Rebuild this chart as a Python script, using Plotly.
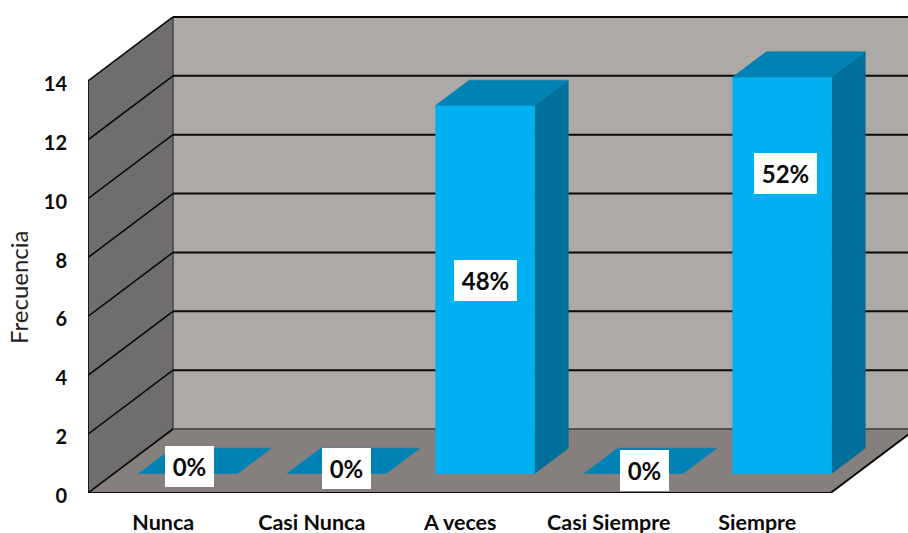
import plotly.graph_objects as go

# Survey responses and their counts
categories = ["Nunca", "Casi Nunca", "A veces", "Casi Siempre", "Siempre"]
frequency = [0, 0, 13, 0, 14]
percent_labels = ["0%", "0%", "48%", "0%", "52%"]
y_ticks = [0, 2, 4, 6, 8, 10, 12, 14]

# Oblique projection of the chart box, in axis units
PX_PER_CATEGORY = 148.5
PX_PER_UNIT = 29.43
DEPTH_X = 85 / PX_PER_CATEGORY
DEPTH_Y = 64 / PX_PER_UNIT
BAR_WIDTH = 99 / PX_PER_CATEGORY
BAR_DEPTH_FRONT = 0.305
BAR_DEPTH_BACK = 0.70
BAR_HEIGHT_SCALE = 0.962
N_CATEGORIES = len(categories)
Y_MAX = 14

WALL_BACK = "#ada9a7"
WALL_SIDE = "#6f6d6d"
FLOOR = "#85807e"
BAR_FRONT = "#00b0f0"
BAR_SIDE = "#006f99"
BAR_TOP = "#0083b4"
FONT = "Lato"


def project(cat, value, depth):
    return cat + depth * DEPTH_X, value + depth * DEPTH_Y


def polygon(points, fill):
    xs = [p[0] for p in points] + [points[0][0]]
    ys = [p[1] for p in points] + [points[0][1]]
    return go.Scatter(x=xs, y=ys, mode="lines", fill="toself", fillcolor=fill,
                      line=dict(width=0.6, color=fill), hoverinfo="skip",
                      showlegend=False, cliponaxis=False)


def polyline(segments, color, width):
    xs, ys = [], []
    for seg in segments:
        xs += [p[0] for p in seg] + [None]
        ys += [p[1] for p in seg] + [None]
    return go.Scatter(x=xs, y=ys, mode="lines", line=dict(width=width, color=color),
                      hoverinfo="skip", showlegend=False, cliponaxis=False)


fig = go.Figure()

# Box surfaces
fig.add_trace(polygon([project(0, 0, 1), project(N_CATEGORIES + 0.2, 0, 1),
                       project(N_CATEGORIES + 0.2, Y_MAX, 1), project(0, Y_MAX, 1)], WALL_BACK))
fig.add_trace(polygon([project(0, 0, 0), project(0, 0, 1),
                       project(0, Y_MAX, 1), project(0, Y_MAX, 0)], WALL_SIDE))
fig.add_trace(polygon([project(0, 0, 0), project(N_CATEGORIES, 0, 0),
                       project(N_CATEGORIES, 0, 1), project(0, 0, 1)], FLOOR))

# Gridlines wrapping the side and back walls
grid_side = [[project(0, v, 0), project(0, v, 1)] for v in y_ticks]
grid_back = [[project(0, v, 1), project(N_CATEGORIES + 0.2, v, 1)] for v in y_ticks if v > 0]
fig.add_trace(polyline([[project(0, 0, 1), project(N_CATEGORIES + 0.2, 0, 1)],
                        [project(0, 0, 1), project(0, Y_MAX, 1)]], "#3f3e3e", 1.3))
fig.add_trace(polyline(grid_side, "#0a0a0a", 1.6))
fig.add_trace(polyline(grid_back, "#0a0a0a", 2))

# Front edges of the box
fig.add_trace(polyline([[project(0, 0, 0), project(0, Y_MAX, 0)]], "#111111", 1.8))
fig.add_trace(polyline([[project(0, 0, 0), project(N_CATEGORIES, 0, 0), project(N_CATEGORIES, 0, 1)]],
                       "#0a0a0a", 2))

# Bars: front, side and top faces
for i, value in enumerate(frequency):
    left = i + 0.5 - BAR_WIDTH / 2
    right = i + 0.5 + BAR_WIDTH / 2
    h = value * BAR_HEIGHT_SCALE
    f, b = BAR_DEPTH_FRONT, BAR_DEPTH_BACK
    if value > 0:
        fig.add_trace(polygon([project(right, 0, f), project(right, 0, b),
                               project(right, h, b), project(right, h, f)], BAR_SIDE))
        fig.add_trace(polygon([project(left, 0, f), project(right, 0, f),
                               project(right, h, f), project(left, h, f)], BAR_FRONT))
    fig.add_trace(polygon([project(left, h, f), project(right, h, f),
                           project(right, h, b), project(left, h, b)], BAR_TOP))

# White percentage tags, placed by category offset and height on the axis
tag_places = [(0.6835, 0.90), (1.741, 0.83), (2.677, 7.22), (3.747, 0.765), (4.697, 10.856)]
annotations = [
    dict(x=x, y=y, xref="x", yref="y", text=f"<b>{label}</b>", showarrow=False,
         bgcolor="white", borderpad=0, borderwidth=0,
         width=49 if len(label) == 2 else 63, height=41,
         font=dict(family=FONT, size=24, color="#0a0a0a"))
    for label, (x, y) in zip(percent_labels, tag_places)
]

# Rotated axis caption, centred on the front edge of the value axis
annotations.append(dict(x=0, y=Y_MAX / 2, xref="paper", yref="y", xshift=-69, xanchor="center",
                        yanchor="middle", text="Frecuencia", textangle=-90, showarrow=False,
                        font=dict(family=FONT, size=24, color="#222222")))

fig.update_layout(
    width=908, height=533,
    margin=dict(l=88, r=0, t=10, b=40, pad=0, autoexpand=False),
    paper_bgcolor="white", plot_bgcolor="white",
    showlegend=False,
    annotations=annotations,
    font=dict(family=FONT, color="#0a0a0a"),
    xaxis=dict(range=[0, 820 / PX_PER_CATEGORY], showgrid=False, zeroline=False, showline=False,
               automargin=False, tickmode="array", tickvals=[i + 0.5 for i in range(N_CATEGORIES)],
               ticktext=[f"<b>{c}</b>" for c in categories], ticks="", ticklabelstandoff=14,
               ticklabelshift=1,
               tickfont=dict(family=FONT, size=21.5, color="#0a0a0a")),
    yaxis=dict(range=[0, 483 / PX_PER_UNIT], showgrid=False, zeroline=False, showline=False,
               automargin=False, tickmode="array", tickvals=y_ticks,
               ticktext=[f"<b>{v}</b>" for v in y_ticks], ticks="", ticklabelstandoff=20,
               ticklabelshift=3,
               tickfont=dict(family=FONT, size=20, color="#0a0a0a")),
)

fig.write_html("out.html")
